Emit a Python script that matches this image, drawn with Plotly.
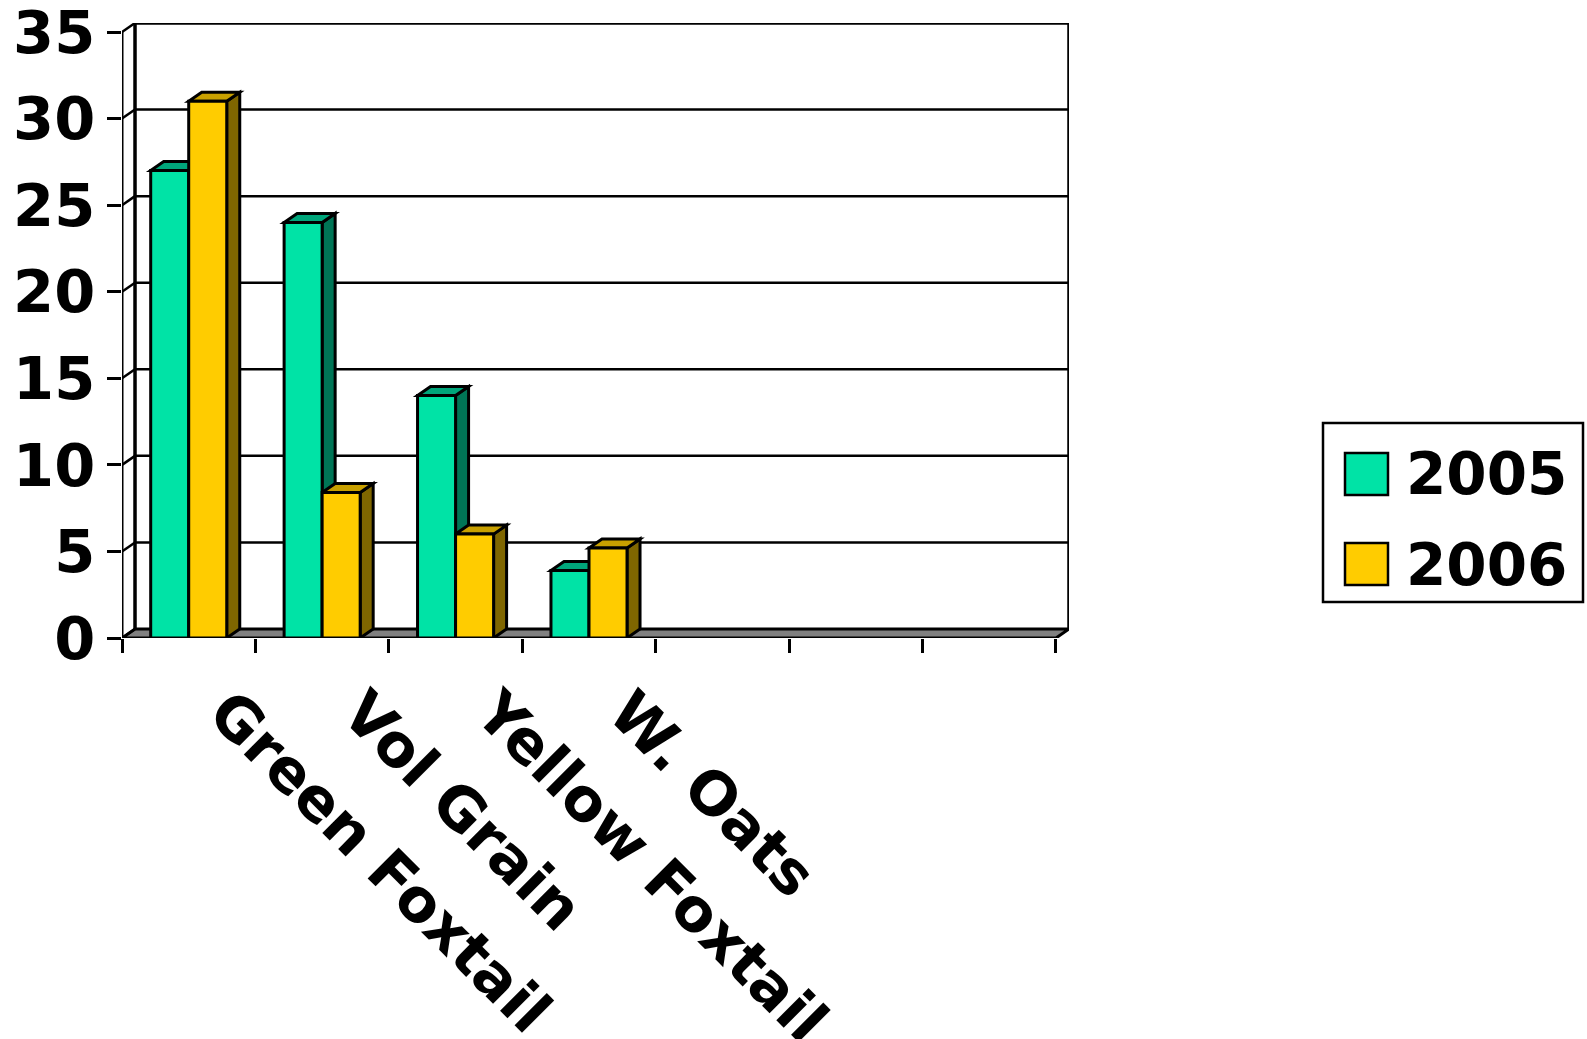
import plotly.graph_objects as go

# ---------------- data ----------------
categories = ["Green Foxtail", "Vol Grain", "Yellow Foxtail", "W. Oats"]
series_names = ["2005", "2006"]
values_2005 = [27, 24, 14, 3.9]
values_2006 = [31, 8.4, 6, 5.2]
y_tick_values = [0, 5, 10, 15, 20, 25, 30, 35]
n_slots = 7  # category slots on the x axis (last three empty)

# ---------------- layout constants ----------------
W, H = 1587, 1039
L, R, T, B = 122, 518, 23, 401
DX = 0.0975   # 3-D depth offset in category units
DY = 0.52     # 3-D depth offset in value units
GROUP_W = 0.57
BAR_W = GROUP_W / 2
Y_MAX = 35

front_colors = ["#00E3A6", "#FFCC00"]
top_colors = ["#00A67B", "#C8A000"]
side_colors = ["#007556", "#7F6600"]
FONT = "DejaVu Sans"
EDGE = 3

PW = W - L - R
PH = H - T - B


def xp(px):
    return (px - L) / PW


def yp(py):
    return (H - B - py) / PH


series = [values_2005, values_2006]
xs = list(range(len(categories)))

fig = go.Figure()
shapes = []

x_left = -0.5
x_right = n_slots - 0.5

# floor
shapes.append(dict(type="path", xref="x", yref="y", layer="below",
                   path=f"M {x_left},0 L {x_right},0 L {x_right+DX},{DY} L {x_left+DX},{DY} Z",
                   fillcolor="#808080", line=dict(color="black", width=EDGE)))
# back wall gridlines
for v in y_tick_values[1:-1]:
    shapes.append(dict(type="line", xref="x", yref="y", layer="below",
                       x0=x_left + DX, x1=x_right + DX, y0=v + DY, y1=v + DY,
                       line=dict(color="black", width=2.5)))
# back wall border
shapes.append(dict(type="path", xref="x", yref="y", layer="below",
                   path=f"M {x_left+DX},{DY} L {x_left+DX},{Y_MAX+DY} L {x_right+DX},{Y_MAX+DY} L {x_right+DX},{DY}",
                   line=dict(color="black", width=3.5)))
# left wall: front axis line and diagonals
shapes.append(dict(type="line", xref="x", yref="y", layer="below",
                   x0=x_left, x1=x_left, y0=0, y1=Y_MAX,
                   line=dict(color="black", width=3)))
for v in y_tick_values:
    shapes.append(dict(type="line", xref="x", yref="y", layer="below",
                       x0=x_left, x1=x_left + DX, y0=v, y1=v + DY,
                       line=dict(color="black", width=2.5)))

# bar top & side faces (drawn beneath the front faces)
for i in xs:
    for k, vals in enumerate(series):
        v = vals[i]
        a = i - GROUP_W / 2 + k * BAR_W
        b = a + BAR_W
        shapes.append(dict(type="path", xref="x", yref="y", layer="below",
                           path=f"M {b},0 L {b},{v} L {b+DX},{v+DY} L {b+DX},{DY} Z",
                           fillcolor=side_colors[k], line=dict(color="black", width=EDGE)))
        shapes.append(dict(type="path", xref="x", yref="y", layer="below",
                           path=f"M {a},{v} L {b},{v} L {b+DX},{v+DY} L {a+DX},{v+DY} Z",
                           fillcolor=top_colors[k], line=dict(color="black", width=EDGE)))

# bar front faces
for k, vals in enumerate(series):
    fig.add_trace(go.Bar(
        x=xs, y=vals, name=series_names[k],
        width=BAR_W, offset=-GROUP_W / 2 + k * BAR_W,
        marker=dict(color=front_colors[k], line=dict(color="black", width=EDGE)),
        showlegend=False,
    ))

# custom legend
shapes.append(dict(type="rect", xref="paper", yref="paper",
                   x0=xp(1323), x1=xp(1583), y0=yp(602), y1=yp(423),
                   line=dict(color="black", width=2.5), fillcolor="white"))
annotations = []
sw_tops = [453, 543]
txt_centers = [474, 565]
for k, name in enumerate(series_names):
    shapes.append(dict(type="rect", xref="paper", yref="paper",
                       x0=xp(1345), x1=xp(1388), y0=yp(sw_tops[k] + 42), y1=yp(sw_tops[k]),
                       line=dict(color="black", width=2.5), fillcolor=front_colors[k]))
    annotations.append(dict(xref="paper", yref="paper", x=xp(1404), y=yp(txt_centers[k]),
                            xanchor="left", yanchor="middle", text=name, showarrow=False,
                            font=dict(family=FONT, size=58, weight="bold", color="black")))

fig.update_layout(
    width=W, height=H,
    margin=dict(l=L, r=R, t=T, b=B, pad=0, autoexpand=False),
    paper_bgcolor="white", plot_bgcolor="white",
    barmode="overlay",
    shapes=shapes, annotations=annotations,
    showlegend=False,
    xaxis=dict(range=[x_left, x_right + DX], tickmode="array", tickvals=xs, ticktext=categories,
               ticks="", tickangle=45, showgrid=False, zeroline=False, showline=False,
               automargin=False, ticklabeloverflow="allow",
               tickfont=dict(family=FONT, size=60, weight="bold", color="black"),
               ticklabelstandoff=26, ticklabelshift=38,
               minor=dict(tickmode="array", tickvals=[x_left + j for j in range(n_slots + 1)],
                          ticks="outside", ticklen=14, tickwidth=3, tickcolor="black",
                          showgrid=False)),
    yaxis=dict(range=[0, Y_MAX + DY], tickmode="array", tickvals=y_tick_values,
               ticks="outside", ticklen=14, tickwidth=3, tickcolor="black",
               showgrid=False, zeroline=False, showline=False, automargin=False,
               ticklabeloverflow="allow",
               tickfont=dict(family=FONT, size=59, weight="bold", color="black")),
)

fig.write_html("out.html", config={"displayModeBar": False},
               post_script="document.body.style.margin='0';document.body.style.overflow='hidden';")
